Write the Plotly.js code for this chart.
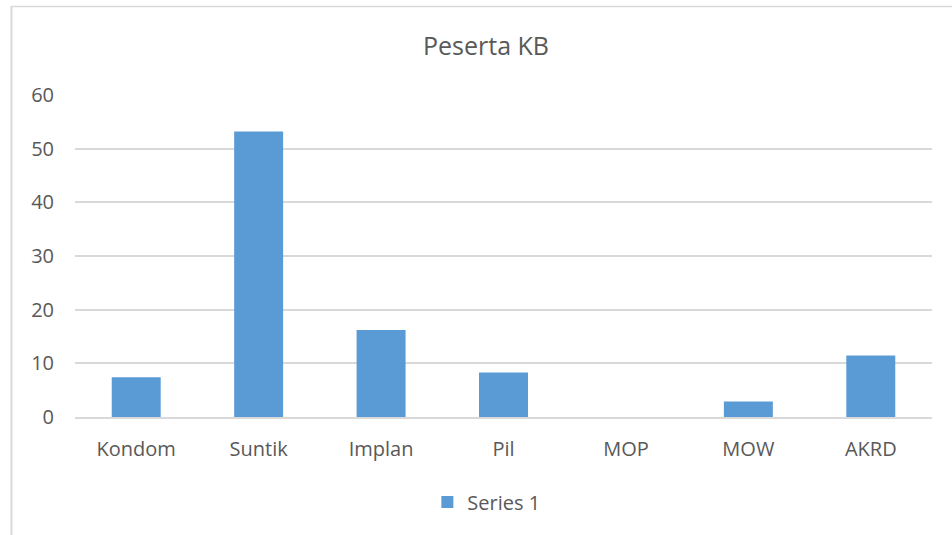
<!DOCTYPE html>
<html>
<head>
<meta charset="utf-8">
<script src="https://cdn.plot.ly/plotly-3.0.1.min.js"></script>
<style>
  html, body { margin: 0; padding: 0; background: #fff; }
  #chart { width: 952px; height: 535px; }
</style>
</head>
<body>
<div id="chart"></div>
<script>
// values
var categories = ['Kondom', 'Suntik', 'Implan', 'Pil', 'MOP', 'MOW', 'AKRD'];
var series1 = [7.4, 53.2, 16.2, 8.3, 0, 2.9, 11.45];
var yTicks = [0, 10, 20, 30, 40, 50, 60];

var textColor = '#595959';
var gridColor = '#d9d9d9';
var fontFamily = '"Open Sans", "Noto Sans", sans-serif';

var trace = {
    x: categories,
    y: series1,
    type: 'bar',
    name: 'Series 1',
    marker: { color: '#5b9bd5' },
    hoverinfo: 'x+y'
};

var layout = {
    width: 952,
    height: 535,
    margin: { l: 75, r: 20, t: 95, b: 118 },
    paper_bgcolor: '#ffffff',
    plot_bgcolor: '#ffffff',
    font: { family: fontFamily, color: textColor, size: 20 },
    title: {
        text: 'Peserta KB',
        font: { size: 25, color: textColor, family: fontFamily },
        xref: 'container',
        x: 0.5105,
        xanchor: 'center',
        yref: 'container',
        y: 1 - 46 / 535,
        yanchor: 'middle'
    },
    bargap: 0.6,
    xaxis: {
        type: 'category',
        showgrid: false,
        showline: true,
        linecolor: gridColor,
        linewidth: 2,
        ticks: '',
        ticklabelstandoff: 13,
        tickfont: { size: 20, color: textColor }
    },
    yaxis: {
        range: [0, 60],
        tickvals: yTicks,
        showgrid: true,
        gridcolor: gridColor,
        gridwidth: 2,
        zeroline: false,
        showline: false,
        ticks: '',
        ticklabelstandoff: 20,
        tickfont: { size: 20, color: textColor }
    },
    showlegend: true,
    legend: {
        orientation: 'h',
        xref: 'paper',
        x: 0.48,
        xanchor: 'center',
        y: -0.264,
        yanchor: 'middle',
        font: { size: 20, color: textColor }
    },
    shapes: [
        // outer chart frame (left and top edges visible in the crop)
        { type: 'line', xref: 'paper', yref: 'paper',
          x0: (11.5 - 75) / 857, x1: (11.5 - 75) / 857,
          y0: (417 - 6) / 322, y1: (417 - 540) / 322,
          line: { color: gridColor, width: 2 } },
        { type: 'line', xref: 'paper', yref: 'paper',
          x0: (11 - 75) / 857, x1: (960 - 75) / 857,
          y0: (417 - 6.5) / 322, y1: (417 - 6.5) / 322,
          line: { color: gridColor, width: 1.5 } }
    ]
};

Plotly.newPlot('chart', [trace], layout, { displayModeBar: false, staticPlot: true });
</script>
</body>
</html>
